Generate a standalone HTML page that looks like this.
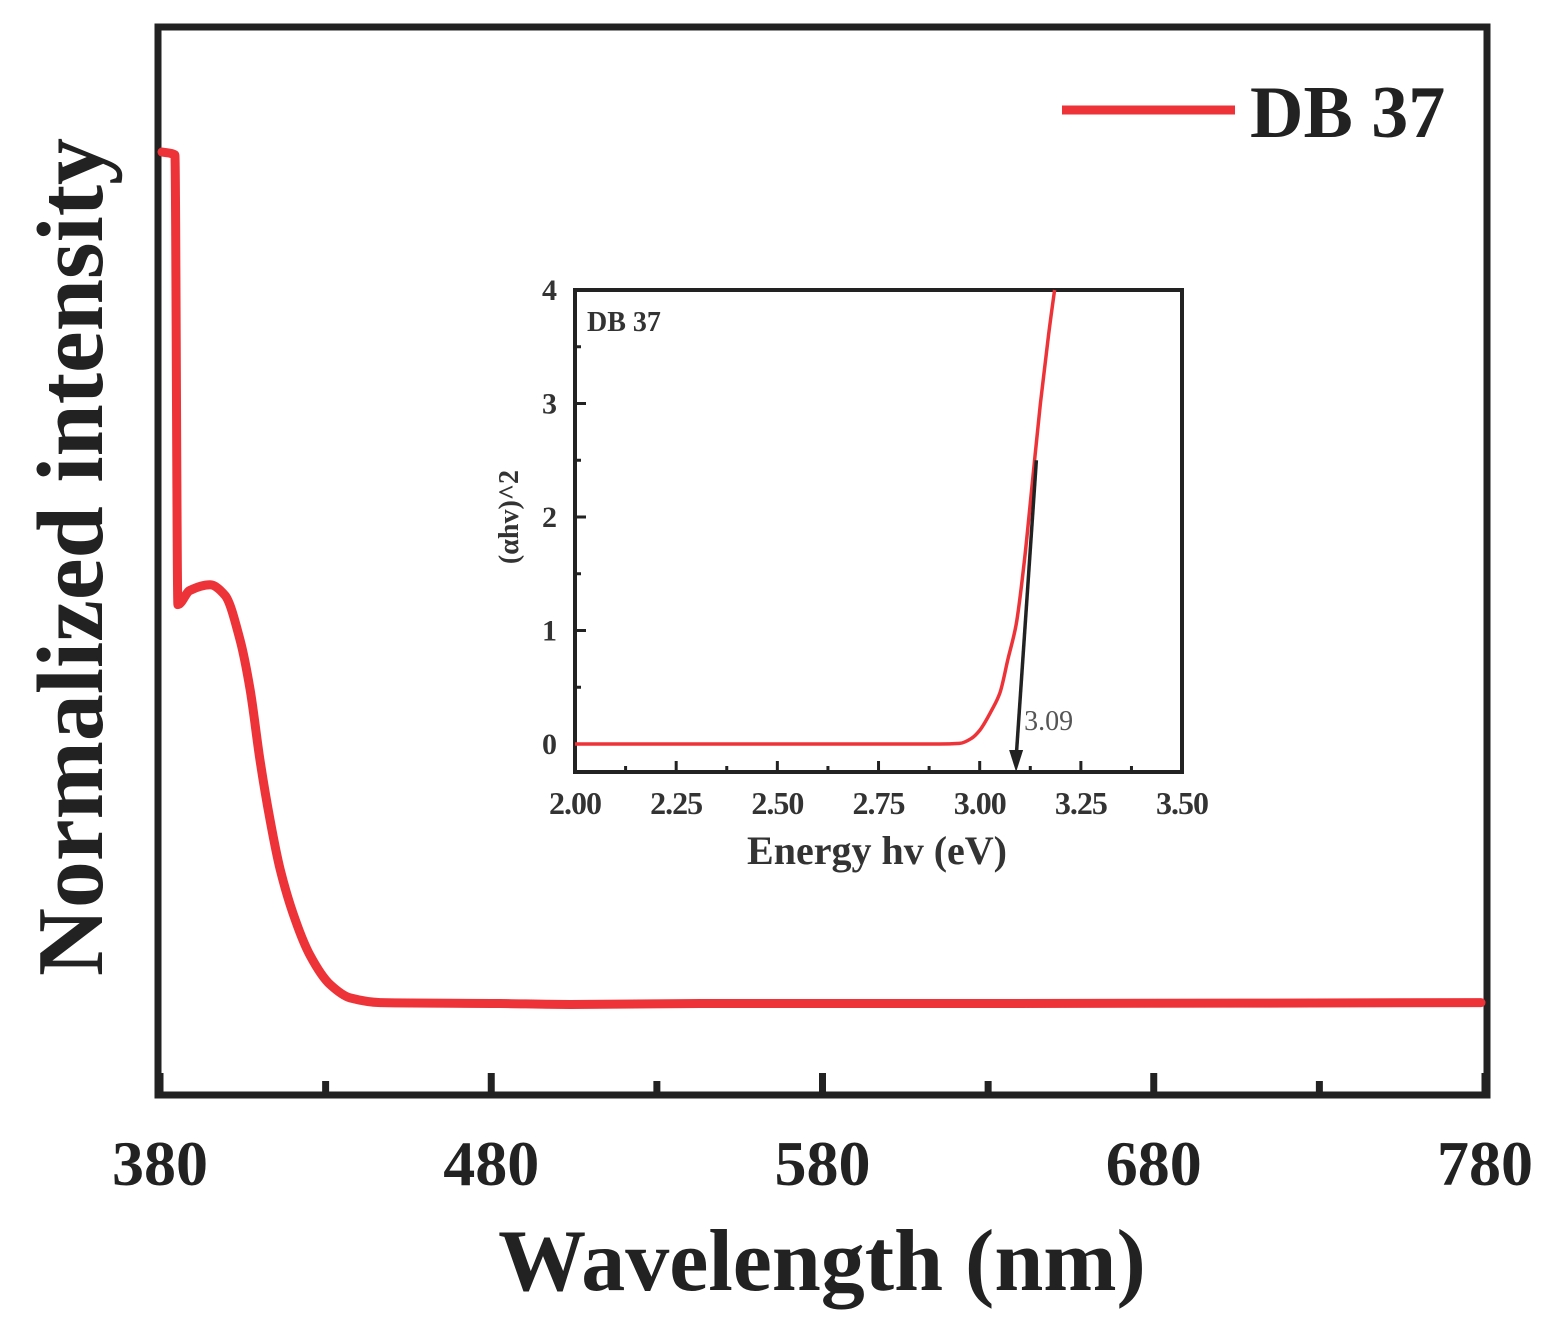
<!DOCTYPE html>
<html><head><meta charset="utf-8"><style>
html,body{margin:0;padding:0;background:#fff;}
svg{display:block;font-family:"Liberation Serif",serif;}
</style></head><body>
<svg id="chart" width="1564" height="1341" viewBox="0 0 1564 1341" xmlns="http://www.w3.org/2000/svg">
<rect x="0" y="0" width="1564" height="1341" fill="#fff"/>
<g id="main"></g>
<g id="inset"></g>
</svg>
<script>
const mainWl=[380.6,384.5,385.4,389,395.1,399.6,404.2,407.2,410.2,413.2,416.3,420.8,425.3,431.4,437.4,446.5,482.7,503.9,543,634,778.8];
const mainVal=[1.0,0.997,0.52,0.535,0.541,0.53,0.482,0.43,0.355,0.292,0.239,0.186,0.148,0.117,0.103,0.098,0.097,0.096,0.097,0.097,0.098];
const mainTicks=[380,480,580,680,780];
const insetE=[2.0,2.9,2.95,2.98,3.0,3.03,3.05,3.07,3.09,3.11,3.13,3.15,3.17,3.185];
const insetY=[0,0,0.005,0.05,0.12,0.3,0.45,0.75,1.05,1.6,2.3,3.0,3.6,4.0];
const insetXTicks=["2.00","2.25","2.50","2.75","3.00","3.25","3.50"];
const insetYTicks=[0,1,2,3,4];
const bandgap=3.09;

const NS="http://www.w3.org/2000/svg";
function mk(tag,attrs,parent,text){const e=document.createElementNS(NS,tag);for(const k in attrs)e.setAttribute(k,attrs[k]);if(text!==undefined)e.textContent=text;parent.appendChild(e);return e;}
function smoothPath(xs,ys){
  const n=xs.length,dx=[],s=[],m=[];
  for(let i=0;i<n-1;i++){dx[i]=xs[i+1]-xs[i];s[i]=(ys[i+1]-ys[i])/dx[i];}
  m[0]=s[0];m[n-1]=s[n-2];
  for(let i=1;i<n-1;i++){
    if(s[i-1]*s[i]<=0){m[i]=0;}
    else{const h0=dx[i-1],h1=dx[i];m[i]=3*(h0+h1)/((2*h1+h0)/s[i-1]+(h1+2*h0)/s[i]);}
  }
  let d='M'+xs[0].toFixed(1)+','+ys[0].toFixed(1);
  for(let i=0;i<n-1;i++){const h=dx[i]/3;
    d+=' C'+(xs[i]+h).toFixed(1)+','+(ys[i]+m[i]*h).toFixed(1)+' '+(xs[i+1]-h).toFixed(1)+','+(ys[i+1]-m[i+1]*h).toFixed(1)+' '+xs[i+1].toFixed(1)+','+ys[i+1].toFixed(1);}
  return d;
}
const main=document.getElementById('main'), inset=document.getElementById('inset');

const L=158,R=1487,T=27,B=1095;
const mx=v=>160+(v-380)*3.3125;
const my=v=>B-v*943;
let f=mk('rect',{x:L,y:T,width:R-L,height:B-T,fill:'none',stroke:'#222','stroke-width':7},main);

for(let v=380;v<=780;v+=50){
  const t=mk('line',{x1:mx(v),x2:mx(v),y1:B,y2:B-(v%100===80?22:14),stroke:'#222','stroke-width':7},main);
  
}
mainTicks.forEach(v=>{
  const t=mk('text',{x:mx(v),y:1185,'text-anchor':'middle','font-size':64,'font-weight':'bold',fill:'#222'},main,String(v));
  
});
let xt=mk('text',{x:822,y:1290,'text-anchor':'middle','font-size':88,'font-weight':'bold',fill:'#222'},main,'Wavelength (nm)');

let yt=mk('text',{x:0,y:0,transform:'translate(102,557) rotate(-90)','text-anchor':'middle','font-size':94,'font-weight':'bold',fill:'#222'},main,'Normalized intensity');

let d=smoothPath(mainWl.map(mx),mainVal.map(my));
let p=mk('path',{d:d,fill:'none',stroke:'#ee3338','stroke-width':9,'stroke-linejoin':'round','stroke-linecap':'round'},main);

let lg=mk('line',{x1:1062,x2:1235,y1:110,y2:110,stroke:'#ee3338','stroke-width':9},main);

let lt=mk('text',{x:1250,y:137,'font-size':74,'font-weight':'bold',fill:'#222'},main,'DB 37');


const iL=575,iR=1182,iT=290,iB=772;
const ix=v=>575+(v-2)*404.7;
const iy=v=>744-v*113.5;
let fr=mk('rect',{x:iL,y:iT,width:iR-iL,height:iB-iT,fill:'#fff',stroke:'#222','stroke-width':4},inset);

for(let k=0;k<=12;k++){const v=2+k*0.125;
  const t=mk('line',{x1:ix(v),x2:ix(v),y1:iB,y2:iB-(k%2?6:11),stroke:'#222','stroke-width':3},inset);
  }
for(let k=0;k<=8;k++){const v=k*0.5;
  const t=mk('line',{x1:iL,x2:iL+(k%2?6:11),y1:iy(v),y2:iy(v),stroke:'#222','stroke-width':3},inset);
  }
insetXTicks.forEach(s=>{const t=mk('text',{x:ix(parseFloat(s)),y:814,'text-anchor':'middle','font-size':32,'font-weight':'bold',fill:'#333','letter-spacing':-1},inset,s);
  });
insetYTicks.forEach(v=>{const t=mk('text',{x:557,y:iy(v)+10,'text-anchor':'end','font-size':30,'font-weight':'bold',fill:'#333'},inset,String(v));
  });
let ixt=mk('text',{x:877,y:864,'text-anchor':'middle','font-size':40,'font-weight':'bold',fill:'#333'},inset,'Energy hv (eV)');

let iyt=mk('text',{x:0,y:0,transform:'translate(518,517) rotate(-90)','text-anchor':'middle','font-size':28,'font-weight':'bold',fill:'#333'},inset,'(αhv)^2');

let il=mk('text',{x:587,y:331,'font-size':28,'font-weight':'bold',fill:'#333'},inset,'DB 37');

let d2=smoothPath(insetE.map(ix),insetY.map(iy));
let p2=mk('path',{d:d2,fill:'none',stroke:'#ee3338','stroke-width':3.5,'stroke-linejoin':'round'},inset);

let tl=mk('line',{x1:ix(3.14),y1:iy(2.5),x2:ix(bandgap),y2:758,stroke:'#222','stroke-width':3.5},inset);

let ah=mk('polygon',{points:`${ix(bandgap)-7},750 ${ix(bandgap)+7},750 ${ix(bandgap)},772`,fill:'#222'},inset);

let bl=mk('text',{x:ix(bandgap)+8,y:730,'font-size':28,fill:'#555'},inset,String(bandgap.toFixed(2)));

</script>
</body></html>
